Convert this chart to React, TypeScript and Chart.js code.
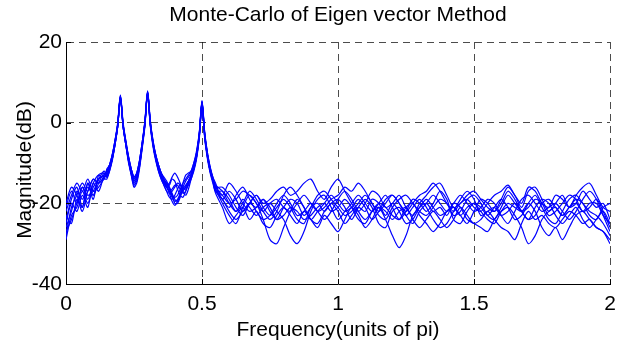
import React, { useEffect, useRef } from "react";
import { Chart, registerables } from "chart.js";

Chart.register(...registerables);

const TITLE = "Monte-Carlo of Eigen vector Method";
const X_LABEL = "Frequency(units of pi)";
const Y_LABEL = "Magnitude(dB)";
const X_TICKS = [0, 0.5, 1, 1.5, 2];
const Y_TICKS = [-40, -20, 0, 20];

// frequency grid (units of pi)
const freq = [
  0, 0.02, 0.04, 0.06, 0.08, 0.1, 0.12, 0.14,
  0.15, 0.16, 0.17, 0.18, 0.19,
  0.2, 0.21, 0.22, 0.23, 0.24,
  0.25, 0.26, 0.27, 0.28, 0.29,
  0.3, 0.31, 0.32, 0.33, 0.34,
  0.35, 0.36, 0.37, 0.38, 0.39,
  0.4, 0.41, 0.42, 0.43, 0.44,
  0.45, 0.46, 0.47, 0.48, 0.49,
  0.5, 0.51, 0.52, 0.53, 0.54,
  0.55,
  0.575, 0.6, 0.625, 0.65, 0.675,
  0.7, 0.725, 0.75, 0.775, 0.8,
  0.825, 0.85, 0.875, 0.9, 0.925,
  0.95, 0.975, 1, 1.025, 1.05,
  1.075, 1.1, 1.125, 1.15, 1.175,
  1.2, 1.225, 1.25, 1.275, 1.3,
  1.325, 1.35, 1.375, 1.4, 1.425,
  1.45, 1.475, 1.5, 1.525, 1.55,
  1.575, 1.6, 1.625, 1.65, 1.675,
  1.7, 1.725, 1.75, 1.775, 1.8,
  1.825, 1.85, 1.875, 1.9, 1.925,
  1.95, 1.975, 2,
];

const run01 = [
  -24, -19, -16, -21, -15, -18, -14, -13,
  -12, -10.5, -8, -4.5, -0.5,
  6.6, -0.5, -5, -8.5, -11.5,
  -13.5, -12.5, -9.5, -5, 0,
  7.6, 0, -5, -8, -10.5,
  -12.5, -14, -15, -16.5, -18,
  -18.5, -18, -16.5, -15, -14,
  -13, -12, -10, -7.5, -3,
  5.2, -3, -8, -11.5, -14,
  -16,
  -18, -15, -17, -20, -22,
  -21, -19, -22, -24, -21,
  -19, -20, -23, -21, -18,
  -17, -19, -21, -23, -22,
  -20, -18, -20, -23, -24,
  -21, -19, -18, -20, -22,
  -23, -21, -19, -20, -23,
  -22, -19, -18, -20, -23,
  -24, -21, -18, -20, -22,
  -21, -19, -20, -23, -22,
  -20, -18, -19, -22, -21,
  -19, -22, -26,
];

const run02 = [
  -28, -21, -18, -15, -17, -14, -15, -13.5,
  -13, -11.5, -9, -5.5, -1,
  6.2, -1, -5.5, -9.5, -12.5,
  -15, -14, -11, -6, -0.5,
  7.3, -0.5, -5.5, -9, -11.5,
  -13.5, -15, -16, -15.5, -14,
  -14.5, -16.5, -18, -18.5, -17,
  -15, -13.5, -11.5, -8.5, -3.5,
  4.8, -3.5, -8.5, -12, -14.5,
  -16.5,
  -20, -23, -25, -21, -18,
  -20, -24, -29, -30, -26,
  -22, -19, -21, -24, -22,
  -20, -18, -20, -22, -21,
  -19, -21, -24, -22, -19,
  -18, -20, -23, -25, -22,
  -20, -18, -20, -22, -21,
  -23, -25, -22, -19, -20,
  -22, -20, -17, -19, -22,
  -24, -23, -20, -19, -21,
  -23, -21, -19, -20, -23,
  -24, -21, -20,
];

const run03 = [
  -21, -17, -20, -16, -19, -15, -13, -14,
  -11.5, -10.5, -8, -4.5, 0,
  6.9, 0, -4.5, -8.5, -11.5,
  -13.5, -12.5, -9.5, -5, 0.5,
  7.9, 0.5, -4.5, -8, -10.5,
  -12.5, -13.5, -14.5, -16, -17.5,
  -19, -19.5, -18, -16, -14.5,
  -13.5, -12.5, -10.5, -7.5, -2.5,
  5.5, -2.5, -7.5, -11, -13.5,
  -15.5,
  -17, -20, -22, -19, -21,
  -23, -21, -20, -22, -24,
  -28, -30, -27, -22, -19,
  -18, -21, -24, -22, -20,
  -18, -20, -22, -20, -18,
  -21, -24, -22, -19, -20,
  -22, -20, -17, -19, -24,
  -25, -22, -20, -21, -23,
  -21, -19, -21, -24, -23,
  -20, -18, -21, -24, -25,
  -22, -19, -18, -20, -22,
  -23, -25, -28,
];

const run04 = [
  -26, -22, -17, -19, -16, -18, -15, -12.5,
  -13.5, -12, -9, -5.5, -1,
  6.0, -1, -5.5, -9.5, -13,
  -15.5, -14.5, -11, -6, -0.5,
  7.1, -0.5, -5.5, -9, -12,
  -14, -15.5, -17, -18.5, -19,
  -18, -16.5, -15.5, -16, -16.5,
  -15.5, -14, -11.5, -8.5, -3.5,
  4.5, -3.5, -8.5, -12, -14.5,
  -17,
  -19, -21, -18, -16, -19,
  -22, -24, -23, -20, -18,
  -20, -23, -22, -20, -22,
  -24, -22, -19, -17, -19,
  -22, -24, -22, -21, -24,
  -28, -31, -28, -23, -21,
  -19, -21, -23, -22, -20,
  -18, -20, -22, -21, -19,
  -20, -23, -25, -22, -19,
  -18, -20, -22, -21, -20,
  -22, -24, -22, -19, -17,
  -19, -23, -27,
];

const run05 = [
  -29, -23, -21, -17, -20, -16, -14, -13,
  -12.5, -11, -8.5, -5, -0.5,
  6.4, -0.5, -5, -9, -12,
  -14, -13, -10, -5.5, 0,
  7.5, 0, -5, -8.5, -11,
  -13, -14.5, -15.5, -15, -13.5,
  -12.5, -13.5, -15, -16.5, -16,
  -14.5, -13, -11, -8, -3,
  5.0, -3, -8, -11.5, -14,
  -16,
  -16, -18, -21, -23, -20,
  -18, -20, -19, -17, -16,
  -18, -17, -15, -14, -17,
  -19, -16, -14, -17, -20,
  -22, -20, -17, -18, -21,
  -20, -18, -21, -23, -20,
  -18, -16, -15, -18, -21,
  -20, -18, -17, -19, -21,
  -22, -19, -16, -18, -21,
  -17, -16, -19, -22, -20,
  -18, -21, -20, -17, -19,
  -21, -20, -24,
];

const run06 = [
  -22, -18, -15, -17, -14, -17, -16, -14,
  -14, -12, -9.5, -5.5, -1,
  6.1, -1, -5.5, -10, -13,
  -16, -15, -11.5, -6.5, -1,
  7.0, -1, -6, -9.5, -12,
  -14, -15.5, -17, -17.5, -17,
  -16, -15, -15.5, -17, -18,
  -16.5, -14, -12, -9, -4,
  4.4, -4, -9, -12.5, -15,
  -17.5,
  -21, -25, -23, -21, -24,
  -22, -25, -26, -23, -21,
  -23, -25, -22, -24, -26,
  -23, -25, -27, -24, -21,
  -23, -26, -24, -21, -22,
  -24, -22, -21, -24, -26,
  -24, -22, -24, -26, -24,
  -21, -23, -25, -24, -22,
  -24, -26, -27, -29, -25,
  -22, -24, -23, -25, -26,
  -24, -22, -23, -25, -24,
  -26, -27, -29,
];

const run07 = [
  -25, -20, -22, -18, -21, -15, -17, -13,
  -12, -10.5, -8, -4.5, -0.5,
  6.7, -0.5, -4.5, -8.5, -11.5,
  -13.5, -12.5, -9.5, -5, 0,
  7.7, 0, -4.5, -8, -10.5,
  -12.5, -14, -15.5, -17, -18.5,
  -19.5, -19, -17.5, -15, -13,
  -12.5, -12, -10, -7, -2.5,
  5.3, -2.5, -7.5, -11, -13.5,
  -15,
  -19, -17, -19, -22, -20,
  -18, -21, -23, -21, -19,
  -21, -24, -25, -21, -20,
  -22, -20, -22, -25, -23,
  -21, -22, -19, -20, -23,
  -20, -22, -25, -24, -21,
  -20, -22, -21, -23, -20,
  -21, -24, -25, -26, -27,
  -24, -22, -21, -23, -26,
  -30, -28, -24, -22, -21,
  -23, -21, -20, -22, -20,
  -20, -23, -25,
];

const run08 = [
  -27, -24, -20, -16, -18, -17, -14, -12,
  -13, -11.5, -9, -5, -1,
  6.3, -1, -5, -9, -12.5,
  -14.5, -13.5, -10.5, -5.5, -0.5,
  7.4, -0.5, -5, -8.5, -11.5,
  -13.5, -14.5, -15, -16, -18,
  -20, -20, -18.5, -16.5, -15.5,
  -14.5, -13, -11, -8, -3,
  4.9, -3, -8, -11.5, -14,
  -16,
  -18, -20, -19, -17, -18,
  -20, -22, -20, -19, -21,
  -22, -20, -18, -20, -22,
  -21, -19, -18, -16, -17,
  -15, -17, -20, -22, -20,
  -18, -20, -22, -20, -18,
  -17, -15, -17, -20, -22,
  -20, -19, -21, -22, -20,
  -18, -17, -15.5, -18, -20,
  -16, -17, -20, -21, -18,
  -19, -21, -18, -16, -15,
  -18, -21, -22,
];

const run09 = [
  -20, -16, -18, -22, -17, -14, -15, -13.5,
  -12.5, -11, -8.5, -5, -0.5,
  6.5, -0.5, -5, -9, -12,
  -14, -13, -10, -5.5, 0,
  7.6, 0, -5, -8.5, -11,
  -13, -14.5, -16, -17, -16.5,
  -15.5, -15.5, -16.5, -17.5, -17,
  -15, -13.5, -11, -8, -3,
  5.1, -3, -8, -11.5, -14,
  -16.5,
  -19, -22, -24, -22, -20,
  -21, -19, -21, -24, -23,
  -21, -22, -24, -23, -21,
  -20, -22, -21, -19, -21,
  -24, -25, -22, -20, -21,
  -23, -24, -21, -20, -23,
  -25, -27, -25, -22, -21,
  -23, -21, -20, -22, -24,
  -25, -22, -20, -21, -22,
  -20, -22, -26, -28, -26,
  -29, -26, -23, -22, -24,
  -26, -27, -30,
];

const run10 = [
  -23, -25, -19, -21, -15, -19, -13, -12.5,
  -13.5, -11.5, -9, -5.5, -1,
  6.2, -1, -5.5, -9.5, -12.5,
  -14.5, -13.5, -10.5, -6, -0.5,
  7.2, -0.5, -5.5, -9, -11.5,
  -13.5, -15, -16, -17.5, -19.5,
  -20.5, -19.5, -18, -17, -16,
  -14.5, -13, -11.5, -8.5, -3.5,
  4.7, -3.5, -8.5, -12, -14.5,
  -17,
  -17, -19, -22, -20, -17,
  -19, -22, -24, -22, -18,
  -16, -18, -21, -24, -25,
  -22, -20, -19, -21, -24,
  -21, -19, -21, -25, -26,
  -22, -21, -23, -21, -19,
  -21, -24, -26, -25, -22,
  -19, -17, -19, -23, -22,
  -21, -23, -22, -20, -22,
  -24, -21, -19, -20, -23,
  -25, -23, -21, -24, -26,
  -24, -22, -25,
];

const runs = [run01, run02, run03, run04, run05, run06, run07, run08, run09, run10];

const FONT = '"Liberation Sans", Arial, Helvetica, sans-serif';

const decorPlugin = {
  id: "decor",
  afterDraw(chart: any) {
    const { ctx, chartArea, scales } = chart;
    const { left, right, bottom } = chartArea;
    ctx.save();
    ctx.strokeStyle = "#000";
    ctx.lineWidth = 1;
    X_TICKS.forEach((v) => {
      const px = Math.round(scales.x.getPixelForValue(v)) + 0.5;
      ctx.beginPath();
      ctx.moveTo(px, bottom);
      ctx.lineTo(px, bottom - 5);
      ctx.stroke();
    });
    Y_TICKS.forEach((v) => {
      const py = Math.round(scales.y.getPixelForValue(v)) + 0.5;
      ctx.beginPath();
      ctx.moveTo(left, py);
      ctx.lineTo(left + 5, py);
      ctx.stroke();
    });
    ctx.fillStyle = "#000";
    ctx.textAlign = "center";
    ctx.textBaseline = "alphabetic";
    ctx.font = `21px ${FONT}`;
    ctx.fillText(TITLE, (left + right) / 2, 21);
    ctx.fillText(X_LABEL, (left + right) / 2, 336);
    ctx.save();
    ctx.translate(31, 170);
    ctx.rotate(-Math.PI / 2);
    ctx.fillText(Y_LABEL, 0, 0);
    ctx.restore();
    ctx.restore();
  },
};

export default function App() {
  const ref = useRef<HTMLCanvasElement | null>(null);
  useEffect(() => {
    if (!ref.current) return;
    const datasets = runs.map((r, k) => ({
      label: `run ${k + 1}`,
      data: freq.map((x, i) => ({ x, y: r[i] })).filter((p) => p.y !== undefined),
      borderColor: "#0000ff",
      backgroundColor: "#0000ff",
      borderWidth: 1.2,
      pointRadius: 0,
      tension: 0.3,
      fill: false,
    }));
    const chart = new Chart(ref.current, {
      type: "line",
      data: { datasets },
      options: {
        responsive: false,
        animation: false,
        devicePixelRatio: 1,
        layout: { padding: { top: 42, right: 7, bottom: 0, left: 0 } },
        plugins: {
          legend: { display: false },
          tooltip: { enabled: false },
          title: { display: false },
        },
        scales: {
          x: {
            type: "linear",
            min: 0,
            max: 2,
            afterFit: (s: any) => {
              s.height = 61;
              s.paddingLeft = 0;
              s.paddingRight = 0;
            },
            ticks: {
              stepSize: 0.5,
              color: "#000",
              padding: 8,
              maxRotation: 0,
              font: { family: FONT, size: 21 },
              callback: (v: any) => String(v),
            },
            grid: { color: "rgba(0,0,0,0.7)", lineWidth: 1, drawTicks: false },
            border: { display: true, color: "#000", width: 1, dash: [7, 5] },
          },
          y: {
            type: "linear",
            min: -40,
            max: 20,
            afterFit: (s: any) => {
              s.width = 66;
              s.paddingTop = 0;
              s.paddingBottom = 0;
            },
            ticks: {
              stepSize: 20,
              color: "#000",
              padding: 4,
              font: { family: FONT, size: 21 },
              callback: (v: any) => String(v),
            },
            grid: { color: "rgba(0,0,0,0.7)", lineWidth: 1, drawTicks: false },
            border: { display: true, color: "#000", width: 1, dash: [7, 5] },
          },
        },
      },
      plugins: [decorPlugin],
    });
    return () => chart.destroy();
  }, []);
  return (
    <div style={{ position: "fixed", left: 0, top: 0, width: 617, height: 345, background: "#fff" }}>
      <canvas ref={ref} width={617} height={345} style={{ display: "block" }} />
    </div>
  );
}
